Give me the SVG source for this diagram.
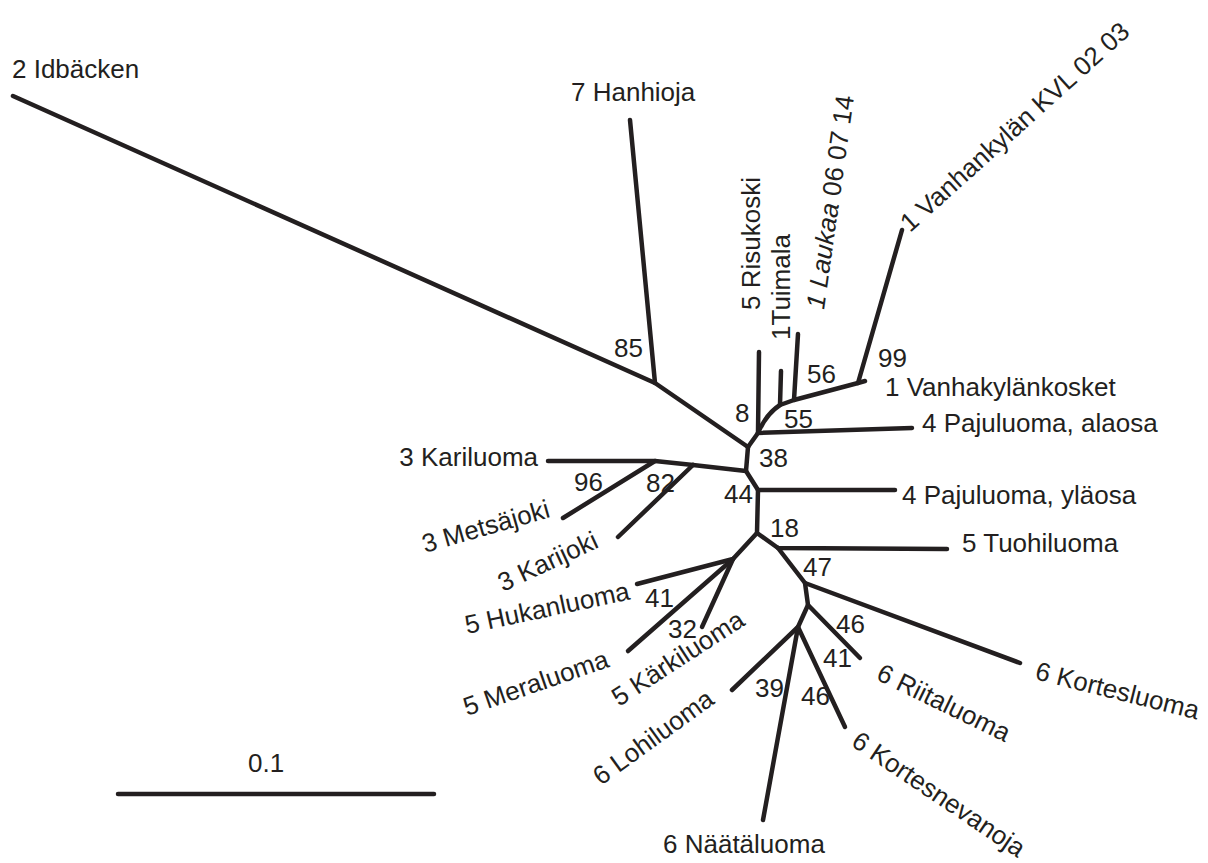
<svg xmlns="http://www.w3.org/2000/svg" width="1208" height="863" viewBox="0 0 1208 863">
<style>
text{font-family:"Liberation Sans",Arial,sans-serif;font-size:26px;fill:#231f20}
.e{fill:none;stroke:#231f20;stroke-width:4.5;stroke-linecap:round;stroke-linejoin:round}
.it{font-style:italic}
</style>
<rect width="1208" height="863" fill="#fff"/>
<g id="connectors">
<path class="e" d="M13,96 L655,383 L748,447"/>
<path class="e" d="M630,120 L655,383"/>
<path class="e" d="M748,447 L758,433 L912,428"/>
<path class="e" d="M759,352 L758,433"/>
<path class="e" d="M758,433 Q766,414 780,405 L794,400 L858,383 L865,381"/>
<path class="e" d="M781,371 L780,405"/>
<path class="e" d="M798,334 L794,400"/>
<path class="e" d="M902,230 L858,383"/>
<path class="e" d="M748,447 L746,471 L693,465 L655,461 L548,461"/>
<path class="e" d="M563,518 L655,461"/>
<path class="e" d="M618,537 L693,465"/>
<path class="e" d="M746,471 L758,490 L895,490"/>
<path class="e" d="M758,490 L757,533 L778,548 L947,549"/>
<path class="e" d="M757,533 L733,559 L637,584"/>
<path class="e" d="M733,559 L628,651"/>
<path class="e" d="M733,559 L702,627"/>
<path class="e" d="M778,548 L805,583 L1020,663"/>
<path class="e" d="M805,583 L808,605 L860,658"/>
<path class="e" d="M808,605 L798,627 L732,690"/>
<path class="e" d="M798,627 L763,820"/>
<path class="e" d="M798,627 L845,727"/>
<path class="e" d="M118,794 L434,794"/>
</g>
<g id="leaf-idbacken"><text x="12" y="78">2 Idbäcken</text></g>
<g id="leaf-hanhioja"><text x="571" y="101">7 Hanhioja</text></g>
<g id="leaf-risukoski"><text transform="translate(760,310) rotate(-90)">5 Risukoski</text></g>
<g id="leaf-tuimala"><text transform="translate(790,340) rotate(-90)">1Tuimala</text></g>
<g id="leaf-laukaa"><text transform="translate(824,310) rotate(-82)"><tspan class="it">1 Laukaa</tspan> 06 07 14</text></g>
<g id="leaf-kvl"><text transform="translate(910,233) rotate(-42)">1 Vanhankylän KVL 02 03</text></g>
<g id="leaf-vanhakylankosket"><text x="885" y="396">1 Vanhakylänkosket</text></g>
<g id="leaf-pajuluoma-alaosa"><text x="922" y="432">4 Pajuluoma, alaosa</text></g>
<g id="leaf-pajuluoma-ylaosa"><text x="902" y="504">4 Pajuluoma, yläosa</text></g>
<g id="leaf-tuohiluoma"><text x="962" y="552">5 Tuohiluoma</text></g>
<g id="leaf-kariluoma"><text x="538" y="466" text-anchor="end">3 Kariluoma</text></g>
<g id="leaf-metsajoki"><text transform="translate(425,553) rotate(-16)">3 Metsäjoki</text></g>
<g id="leaf-karijoki"><text transform="translate(503,592) rotate(-25)">3 Karijoki</text></g>
<g id="leaf-hukanluoma"><text transform="translate(467,634) rotate(-12)">5 Hukanluoma</text></g>
<g id="leaf-meraluoma"><text transform="translate(467,716) rotate(-19)">5 Meraluoma</text></g>
<g id="leaf-karkiluoma"><text transform="translate(619,707) rotate(-33)">5 Kärkiluoma</text></g>
<g id="leaf-lohiluoma"><text transform="translate(601,786) rotate(-36)">6 Lohiluoma</text></g>
<g id="leaf-naataluoma"><text x="663" y="853">6 Näätäluoma</text></g>
<g id="leaf-kortesnevanoja"><text transform="translate(850,745) rotate(34)">6 Kortesnevanoja</text></g>
<g id="leaf-riitaluoma"><text transform="translate(875,679) rotate(26)">6 Riitaluoma</text></g>
<g id="leaf-kortesluoma"><text transform="translate(1034,679) rotate(14)">6 Kortesluoma</text></g>
<g id="bootstrap">
<text x="614" y="357">85</text>
<text x="735" y="422">8</text>
<text x="807" y="383">56</text>
<text x="878" y="367">99</text>
<text x="784" y="428">55</text>
<text x="759" y="467">38</text>
<text x="724" y="503">44</text>
<text x="770" y="537">18</text>
<text x="803" y="576">47</text>
<text x="836" y="633">46</text>
<text x="823" y="667">41</text>
<text x="755" y="697">39</text>
<text x="801" y="705">46</text>
<text x="668" y="638">32</text>
<text x="645" y="607">41</text>
<text x="574" y="491">96</text>
<text x="646" y="492">82</text>
</g>
<g id="scale"><text x="248" y="772">0.1</text></g>
</svg>
